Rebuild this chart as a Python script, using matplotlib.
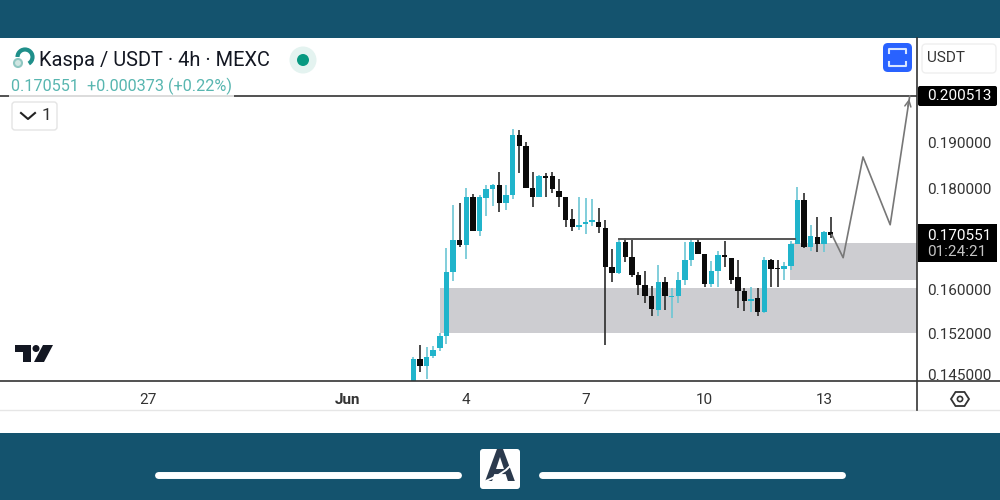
import matplotlib
matplotlib.use('Agg')
import matplotlib.pyplot as plt
from matplotlib.patches import Rectangle, FancyBboxPatch, Circle, Polygon, Arc

plt.rcParams['font.family'] = ['Roboto', 'DejaVu Sans']

# 4h candles, first one is 2 Jun late
opens = [.14327, .14750, .14630, .14801, .14940, .15155, .16340, .16945, .16847, .17815, .17124,
         .17809, .17995, .18079, .17705, .17870, .19161, .18918, .18022, .17829, .18269, .18275,
         .17953, .17835, .17379, .17217, .17272, .17318, .17318, .17197, .16430, .16316, .16906,
         .16621, .16283, .16094, .15889, .15620, .16137, .15865, .15889, .16188, .16555, .16906,
         .16678, .16107, .16346, .16651, .16601, .16239, .15970, .15791, .15846, .15585, .16569,
         .16411, .16398, .16454, .16880, .17767, .16815, .17012, .16880, .17112]
closes = [.14750, .14630, .14789, .14911, .15155, .16340, .16945, .16847, .17815, .17124, .17815,
          .17995, .18079, .17705, .17870, .19161, .18918, .18022, .17829, .18275, .18233, .17989,
          .17835, .17359, .17217, .17257, .17312, .17359, .17217, .16435, .16316, .16914, .16621,
          .16283, .16094, .15889, .15646, .16137, .15876, .15889, .16188, .16555, .16906, .16678,
          .16107, .16346, .16665, .16621, .16188, .15970, .15797, .15828, .15585, .16569, .16398,
          .16392, .16454, .16880, .17767, .16807, .17024, .16880, .17112, .17058]
highs = [.14795, .14996, .14957, .14979, .15220, .16801, .17664, .17705, .18016, .17891, .17870,
         .18079, .18100, .18354, .18079, .19295, .19273, .19014, .18354, .18290, .18340, .18361,
         .18205, .17835, .17582, .17835, .17809, .17788, .17603, .17359, .16782, .16959, .16992,
         .16959, .16327, .16359, .16075, .16473, .16239, .16032, .16335, .16906, .16945, .16973,
         .16678, .16536, .16743, .16939, .16601, .16569, .16032, .16051, .16032, .16613, .16582,
         .16555, .16517, .16926, .18044, .17918, .17243, .17405, .17124, .17405]
lows = [.14250, .14528, .14410, .14767, .14889, .15026, .16156, .16821, .16588, .17124, .17024,
        .17439, .17629, .17507, .17548, .17788, .18340, .18022, .17623, .17829, .17835, .17912,
        .17623, .17217, .17124, .17144, .17078, .17237, .17098, .15009, .16137, .16302, .16517,
        .16239, .15907, .15755, .15524, .15524, .15633, .15484, .15755, .16094, .16441, .16678,
        .16051, .16051, .16051, .16430, .16113, .15664, .15602, .15585, .15512, .15574, .16051,
        .16051, .16175, .16378, .16880, .16795, .16729, .16710, .16710, .16992]

price_ticks = [0.145, 0.152, 0.16, 0.18, 0.19]
date_idx = [-40, -10, 8, 26, 44, 62]
date_labels = ['27', 'Jun', '4', '7', '10', '13']

# drawings on the chart
zone_low = (4.0, .15203, .16037)
zone_high = (56.9, .16188, .16900)
neck_x = [31, 57.6]
neck_price = .16979
target_price = 0.200513
path_x = [63.2, 64.9, 67.9, 72, 74.95]
path_price = [.17058, .16607, .18677, .17257, .20051]

last_price = 0.170551
TEAL = '#20b4cb'
BLACK = '#0b0b0b'
BAND = '#14536e'

fig = plt.figure(figsize=(10, 5), dpi=100, facecolor='white')

# chart area spans x 0-917, y 38-381 in pixels
ax = fig.add_axes([0, 119 / 500, 0.917, 343 / 500], zorder=1)
ax.set_yscale('log')
ax.set_xlim(-62.4, 76.05)
ax.set_ylim(0.14384, 0.21454)
ax.patch.set_alpha(0)
for s in ax.spines.values():
    s.set_visible(False)

xs = list(range(len(opens)))
for i in xs:
    up = closes[i] >= opens[i]
    col = TEAL if up else BLACK
    ax.vlines(i, lows[i], highs[i], color='#6cc6d4' if up else '#2b2b2b', lw=1.2, zorder=3)
    lo, hi = min(opens[i], closes[i]), max(opens[i], closes[i])
    ax.bar(i, hi - lo, bottom=lo, width=0.82, color=col, zorder=4)

xmax = ax.get_xlim()[1]
for x0, p0, p1 in (zone_low, zone_high):
    ax.add_patch(Rectangle((x0, p0), xmax - x0, p1 - p0, color='#cdcdd1', lw=0, zorder=1))

ax.plot(neck_x, [neck_price, neck_price], color='#555555', lw=1.4, zorder=5)
ax.axhline(target_price, color='#333333', lw=1.2, zorder=2)
ax.plot(path_x, path_price, color='#777777', lw=1.2, zorder=5)
ax.annotate('', xy=(path_x[-1], path_price[-1]), xytext=(path_x[-1] - 0.35, path_price[-1] * 0.985),
            arrowprops=dict(arrowstyle='->', color='#777777', lw=1.1, mutation_scale=11), zorder=5)

ax.yaxis.tick_right()
ax.minorticks_off()
ax.set_yticks(price_ticks)
ax.set_yticklabels(['%.6f' % p for p in price_ticks])
ax.set_xticks(date_idx)
ax.set_xticklabels(date_labels)
ax.tick_params(axis='y', which='both', length=0, pad=7, labelsize=11, labelcolor='#333333')
ax.tick_params(axis='x', length=0, pad=9, labelsize=11, labelcolor='#333333')
ax.get_xticklabels()[1].set_fontweight('bold')

# everything around the chart, in pixel coordinates
ui = fig.add_axes([0, 0, 1, 1], zorder=2)
ui.set_xlim(0, 1000)
ui.set_ylim(500, 0)
ui.axis('off')
ui.patch.set_alpha(0)

ui.add_patch(Rectangle((0, 0), 1000, 38, color=BAND, lw=0))
ui.add_patch(Rectangle((0, 433), 1000, 67, color=BAND, lw=0))
ui.plot([0, 1000], [381, 381], color='#333333', lw=1.2)
ui.plot([0, 1000], [410, 410], color='#e6e6e6', lw=1)
ui.plot([917, 917], [38, 410], color='#333333', lw=1.2)

ui.text(39, 60, 'Kaspa / USDT · 4h · MEXC', fontsize=14.4, color='#131722', va='center')
ui.text(11, 86.5, '0.170551  +0.000373 (+0.22%)', fontsize=11.7, color='#58b6b0', va='center',
        bbox=dict(facecolor='white', edgecolor='none', alpha=0.8, pad=1.5))

# coin icon
ui.add_patch(Arc((25, 57), 15, 15, theta1=180, theta2=60, color='#1f8f8a', lw=3))
ui.add_patch(Circle((18, 63), 4, facecolor='#cfe6e2', edgecolor='#8fc7c2', lw=1.5))

# market status dot
ui.add_patch(Circle((303, 60), 13.5, color='#e4f3f0', lw=0))
ui.add_patch(Circle((303, 60), 6, color='#089981', lw=0))

# intervals button
ui.add_patch(FancyBboxPatch((12, 102), 45, 28, boxstyle='round,pad=0,rounding_size=3',
                            facecolor='white', edgecolor='#e4e4e4', lw=1))
ui.plot([21, 28, 35], [113, 119, 113], color='#222222', lw=1.5)
ui.text(46, 116, '1', fontsize=12.5, color='#333333', ha='center', va='center')

# blue screenshot button
ui.add_patch(FancyBboxPatch((883, 43), 29, 29, boxstyle='round,pad=0,rounding_size=5',
                            facecolor='#2962ff', edgecolor='none'))
ui.plot([889, 889, 906, 906], [53, 49, 49, 53], color='#d9e6ff', lw=1.5)
ui.plot([889, 889, 906, 906], [62, 66, 66, 62], color='#d9e6ff', lw=1.5)

ui.add_patch(FancyBboxPatch((922, 44), 74, 29, boxstyle='round,pad=0,rounding_size=4',
                            facecolor='white', edgecolor='#efefef', lw=1))
ui.text(927, 58.5, 'USDT', fontsize=11, color='#333333', va='center')

# price tags
ui.add_patch(FancyBboxPatch((918, 86), 79, 20, boxstyle='round,pad=0,rounding_size=2',
                            facecolor='black', edgecolor='none'))
ui.text(927, 96.5, '%.6f' % target_price, fontsize=11, color='white', va='center')
ui.add_patch(Rectangle((918, 224), 79, 38, color='black', lw=0))
ui.text(927, 235.5, '%.6f' % last_price, fontsize=11, color='white', va='center')
ui.text(927, 252.5, '01:24:21', fontsize=11, color='#c4c4c4', va='center')

# tradingview logo
ui.add_patch(Polygon([(15, 345), (31, 345), (31, 362), (23, 362), (23, 352), (15, 352)], color='#131722', lw=0))
ui.add_patch(Circle((36, 348.5), 3.5, color='#131722', lw=0))
ui.add_patch(Polygon([(43, 345), (53, 345), (44, 362), (34, 362)], color='#131722', lw=0))

# settings hexagon
ui.add_patch(Polygon([(951, 399), (955.5, 392), (964.5, 392), (969, 399), (964.5, 406), (955.5, 406)],
                     facecolor='none', edgecolor='#333333', lw=1.3))
ui.add_patch(Circle((960, 399), 2.6, facecolor='none', edgecolor='#333333', lw=1.2))

# bottom bars and logo
ui.plot([158, 458], [475, 475], color='white', lw=5, solid_capstyle='round')
ui.plot([542, 842], [475, 475], color='white', lw=5, solid_capstyle='round')
ui.add_patch(FancyBboxPatch((480, 449), 40, 40, boxstyle='round,pad=0,rounding_size=3',
                            facecolor='white', edgecolor='none'))
ui.text(500, 469, 'A', fontsize=32, fontweight='bold', color='#2b3a4d', ha='center', va='center')
ui.plot([486, 497, 506, 514], [481, 476, 470, 462], color='white', lw=1.4, zorder=5)

fig.savefig('out.png', dpi=100)
